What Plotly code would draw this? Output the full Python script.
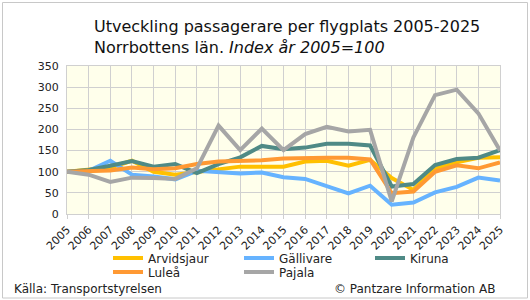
import plotly.graph_objects as go

years = list(range(2005, 2026))
arvidsjaur = [100, 105, 110, 126, 100, 93, 99, 107, 112, 112, 112, 124, 126, 114, 128, 85, 57, 108, 122, 133, 134]
gallivare = [100, 102, 126, 93, 89, 82, 102, 100, 96, 98, 87, 83, 65, 49, 67, 22, 27, 51, 64, 86, 79]
kiruna = [100, 104, 114, 125, 112, 118, 97, 118, 134, 161, 153, 157, 166, 166, 162, 65, 71, 116, 130, 133, 151]
lulea = [100, 102, 103, 110, 106, 108, 118, 124, 125, 127, 131, 133, 133, 133, 129, 49, 53, 100, 115, 108, 122]
pajala = [100, 93, 76, 86, 85, 83, 108, 209, 151, 202, 151, 189, 206, 195, 199, 30, 181, 281, 294, 238, 150]

names = ["Arvidsjaur", "Gällivare", "Kiruna", "Luleå", "Pajala"]
values = [arvidsjaur, gallivare, kiruna, lulea, pajala]
colors = ["#FFC000", "#66B3FF", "#4F8A86", "#FF9933", "#A6A6A6"]

L, R, T, B = 67, 30, 66, 86
W, H = 530, 300
pw = W - L - R
ph = H - T - B

def px(x):
    return (x - L) / pw

def py(y):
    return (H - B - y) / ph

# legend slot positions (pixels): 3 columns, 2 rows
legend_pos = [(108, 258), (239, 258), (370, 258), (108, 272), (239, 272)]

fig = go.Figure()
layout_legends = {}
for i, (name, vals, col) in enumerate(zip(names, values, colors)):
    key = "legend" if i == 0 else f"legend{i+1}"
    fig.add_trace(go.Scatter(x=years, y=vals, name=name, mode="lines", legend=key,
                             line=dict(color=col, width=4)))
    lx, ly = legend_pos[i]
    layout_legends[key] = dict(x=px(lx), y=py(ly), xanchor="left", yanchor="middle",
                               orientation="h", font=dict(size=12), itemwidth=30,
                               bgcolor="rgba(0,0,0,0)", borderwidth=0)

fig.update_layout(
    width=W, height=H,
    margin=dict(l=L, r=R, t=T, b=B, autoexpand=False),
    paper_bgcolor="white",
    plot_bgcolor="#FFFFEB",
    font=dict(family="DejaVu Sans, Verdana, sans-serif", size=11, color="#222"),
    showlegend=True,
    **layout_legends,
    xaxis=dict(tickmode="array", tickvals=years, ticktext=[str(y) for y in years],
               tickangle=-45, range=[2005, 2025], showgrid=True, gridcolor="#D0D0D0",
               gridwidth=1, zeroline=False, showline=True, linecolor="#D0D0D0",
               mirror=True, ticks="outside", ticklen=4, tickcolor="#D0D0D0",
               tickfont=dict(size=11)),
    yaxis=dict(range=[0, 350], tickvals=list(range(0, 351, 50)), showgrid=True,
               gridcolor="#D0D0D0", gridwidth=1, zeroline=False, showline=True,
               linecolor="#D0D0D0", mirror=True, ticks="outside", ticklen=5,
               tickcolor="rgba(0,0,0,0)", tickfont=dict(size=11)),
    annotations=[
        dict(xref="paper", yref="paper", x=px(92), y=py(27), xanchor="left", yanchor="middle",
             text="Utveckling passagerare per flygplats 2005-2025", showarrow=False,
             font=dict(size=16, color="#111")),
        dict(xref="paper", yref="paper", x=px(92), y=py(48), xanchor="left", yanchor="middle",
             text="Norrbottens län. <i>Index år 2005=100</i>", showarrow=False,
             font=dict(size=16, color="#111")),
        dict(xref="paper", yref="paper", x=px(12), y=py(289), xanchor="left", yanchor="middle",
             text="Källa: Transportstyrelsen", showarrow=False, font=dict(size=12)),
        dict(xref="paper", yref="paper", x=px(497), y=py(289), xanchor="right", yanchor="middle",
             text="© Pantzare Information AB", showarrow=False, font=dict(size=12)),
    ],
    shapes=[
        dict(type="rect", xref="paper", yref="paper", x0=px(2.5), x1=px(527.5),
             y0=py(2.5), y1=py(298), line=dict(color="#C8C8C8", width=1),
             fillcolor="rgba(0,0,0,0)", layer="below"),
    ],
)

fig.write_html("out.html")
